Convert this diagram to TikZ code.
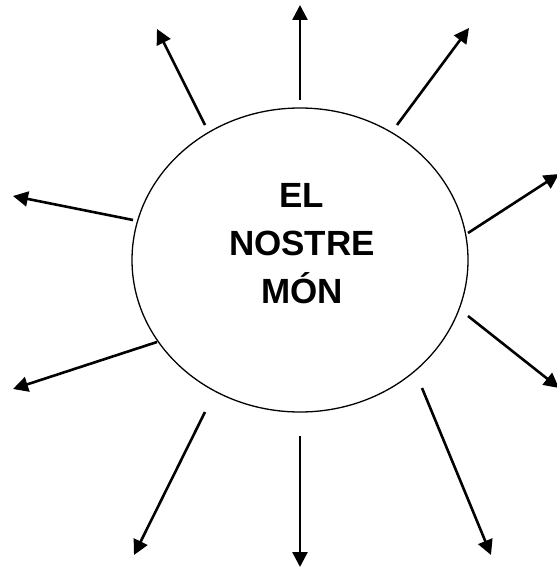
\documentclass[tikz,border=0pt]{standalone}
\usepackage{fontspec}
\setmainfont{Liberation Sans}
\usetikzlibrary{arrows.meta,shapes.geometric}
\begin{document}
\begin{tikzpicture}[x=1bp,y=-1bp,
  ray/.style={line width=2.6bp,-{Triangle[length=15bp,width=15bp]}},
  world/.style={draw,ellipse,line width=1.3bp,minimum width=336bp,minimum height=304bp,inner sep=0pt},
  title/.style={align=center,font=\fontsize{35bp}{48bp}\selectfont\bfseries}]
\useasboundingbox (0,0) rectangle (557,568);
\node[world] (m) at (300,260) {};
\node[title] (t) at (302,244) {EL\\NOSTRE\\MÓN};
% start and end points of the rays
\coordinate (s1) at (300,100);  \coordinate (e1) at (300,5);
\coordinate (s2) at (205,125);  \coordinate (e2) at (157,29);
\coordinate (s3) at (397,125);  \coordinate (e3) at (469,28);
\coordinate (s4) at (133,220);  \coordinate (e4) at (13,196);
\coordinate (s5) at (468,233);  \coordinate (e5) at (559,174);
\coordinate (s6) at (468,316);  \coordinate (e6) at (559,388);
\coordinate (s7) at (157,342);  \coordinate (e7) at (13,389);
\coordinate (s8) at (205,412);  \coordinate (e8) at (134,555);
\coordinate (s9) at (300,436);  \coordinate (e9) at (300,567);
\coordinate (s10) at (422,388); \coordinate (e10) at (491,555);
\foreach \i in {1,...,10} \draw[ray] (s\i) -- (e\i);
\end{tikzpicture}
\end{document}
